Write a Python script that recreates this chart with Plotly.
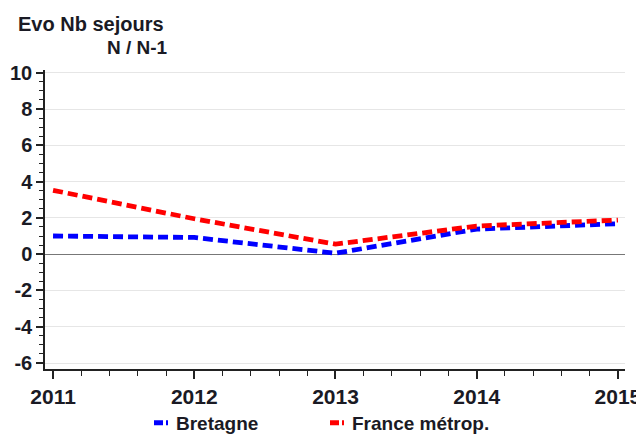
import plotly.graph_objects as go

years = [2011, 2012, 2013, 2014, 2015]
bretagne = [1.0, 0.92, 0.05, 1.38, 1.68]
france = [3.52, 1.95, 0.55, 1.55, 1.88]
series_names = ["Bretagne", "France métrop."]
y_ticks = [-6, -4, -2, 0, 2, 4, 6, 8, 10]

# the page body adds an 8px offset; size the figure so it fits the 644x435 window
OFF = 8
W, H = 644 - OFF, 435 - OFF
L, R, T, B = 45 - OFF, 19, 70 - OFF, 66
pw = W - L - R
ph = H - T - B
FAM = "Liberation Sans, Arial, sans-serif"
TXT = "#1a1a24"
colors = ["#0000FF", "#FF0000"]


def px_x(x):
    return (x - OFF - L) / pw


def px_y(y):
    return 1 - (y - OFF - T) / ph


fig = go.Figure()
for name, vals, col in zip(series_names, [bretagne, france], colors):
    fig.add_trace(go.Scatter(x=years, y=vals, mode="lines", name=name, showlegend=False,
                             line=dict(color=col, width=4.8, dash="10px,5px")))
# legend-only entries mimicking the short block symbol of the original
for name, col, lg in zip(series_names, colors, ["legend", "legend2"]):
    fig.add_trace(go.Scatter(x=[None], y=[None], mode="lines", name=f"<b>{name}</b>", legend=lg,
                             line=dict(color=col, width=5, dash="0px,13px,9px,3px,2px,100px")))

leg_common = dict(orientation="h", xanchor="left", yanchor="middle", y=px_y(423),
                  font=dict(family=FAM, size=19, color=TXT), itemwidth=30,
                  bgcolor="rgba(0,0,0,0)")

fig.update_layout(
    width=W, height=H,
    margin=dict(l=L, r=R, t=T, b=B, autoexpand=False),
    paper_bgcolor="white", plot_bgcolor="white",
    font=dict(family=FAM, size=18, color=TXT),
    showlegend=True,
    legend=dict(x=px_x(136), **leg_common),
    legend2=dict(x=px_x(312), **leg_common),
    xaxis=dict(range=[2010.943, 2015.05], tickvals=years, ticktext=[f"<b>{y}</b>" for y in years],
               automargin=False,
               showgrid=False, zeroline=False, showline=True, linecolor="#222", linewidth=1.5,
               ticks="outside", ticklen=8, tickwidth=1.5, tickcolor="#222",
               minor=dict(dtick=0.2, tick0=2011, ticks="outside", ticklen=5, tickwidth=1.2, tickcolor="#222"),
               tickfont=dict(size=21)),
    yaxis=dict(range=[-6.33, 10.15], tickvals=y_ticks, ticktext=[f"<b>{v}</b>" for v in y_ticks],
               automargin=False,
               showgrid=True, gridcolor="#e6e6e6", gridwidth=1,
               zeroline=True, zerolinecolor="#777", zerolinewidth=1,
               showline=True, linecolor="#222", linewidth=1.5,
               ticks="outside", ticklen=7, tickwidth=1.5, tickcolor="#222",
               minor=dict(dtick=0.5, tick0=0, ticks="outside", ticklen=4, tickwidth=1.2, tickcolor="#222", showgrid=False),
               tickfont=dict(size=20)),
)

fig.add_annotation(text="<b>Evo Nb sejours</b>", xref="paper", yref="paper",
                   x=px_x(16), y=px_y(24), xanchor="left", yanchor="middle",
                   showarrow=False, font=dict(size=20, color=TXT))
fig.add_annotation(text="<b>N / N-1</b>", xref="paper", yref="paper",
                   x=px_x(105), y=px_y(47), xanchor="left", yanchor="middle",
                   showarrow=False, font=dict(size=19, color=TXT))

fig.write_html("out.html")
